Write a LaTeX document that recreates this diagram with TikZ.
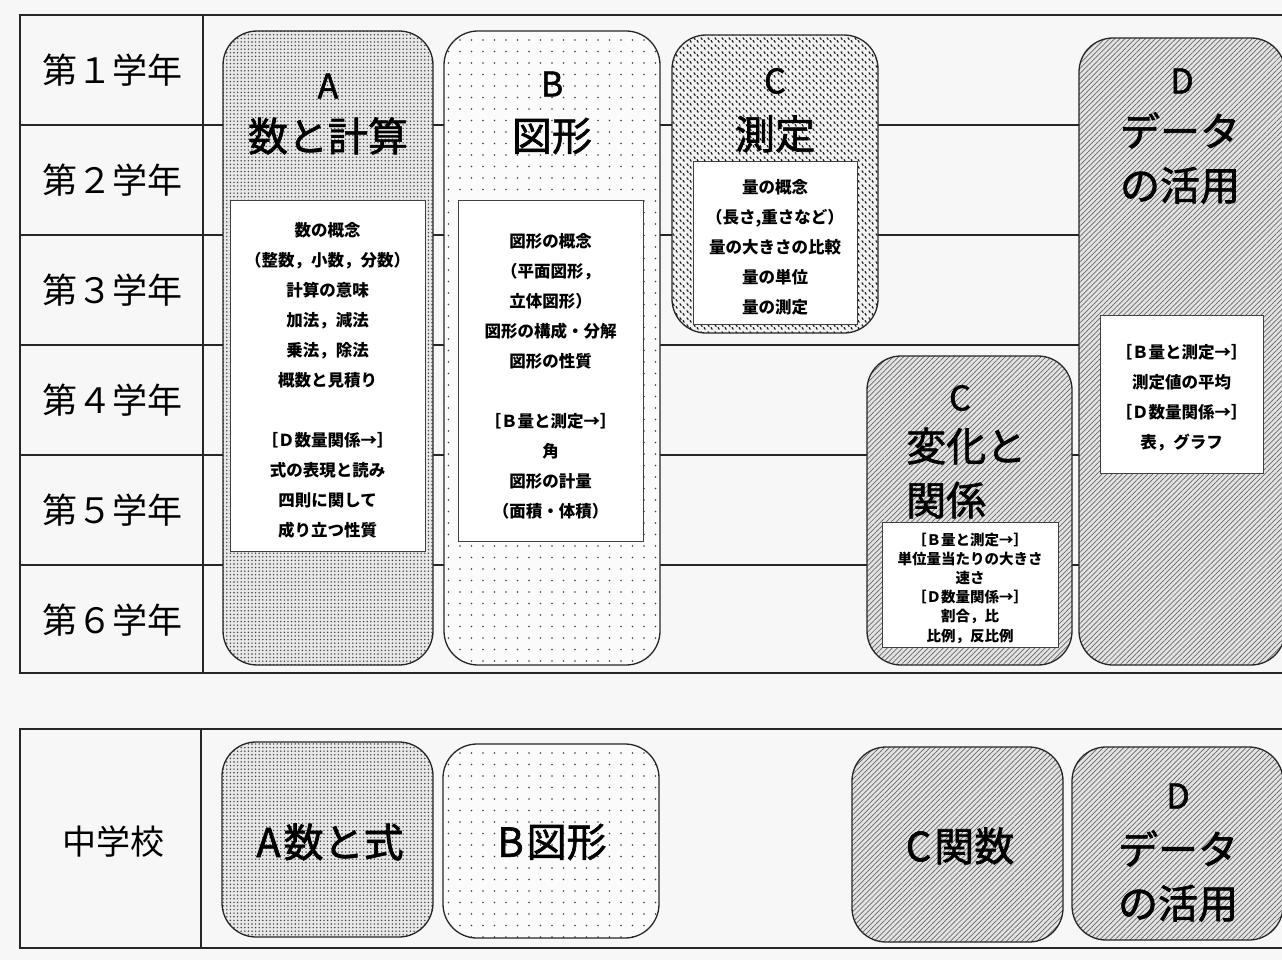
\documentclass[tikz,border=0pt]{standalone}
\usepackage{fontspec}
\newfontfamily\jp{Noto Sans CJK JP}
\newfontfamily\jpm[FakeBold=1.5]{Noto Sans CJK JP}
\usetikzlibrary{patterns,patterns.meta}
\pgfdeclarepatternformonly{cdash}{\pgfpointorigin}{\pgfqpoint{7pt}{7pt}}{\pgfqpoint{7pt}{7pt}}{%
  \pgfsetlinewidth{1.3pt}%
  \pgfsetroundcap
  \pgfpathmoveto{\pgfqpoint{1.2pt}{6pt}}\pgfpathlineto{\pgfqpoint{2.4pt}{4pt}}%
  \pgfpathmoveto{\pgfqpoint{4.7pt}{2.8pt}}\pgfpathlineto{\pgfqpoint{5.9pt}{0.8pt}}%
  \pgfusepath{stroke}}
\begin{document}
\begin{tikzpicture}[x=1pt,y=-1pt,
  grid/.style={line width=1.6pt,draw=black!85},
  box/.style={draw=black!85,line width=1.3pt,rounded corners=34pt,inner sep=0pt},
  pA/.style={box,preaction={fill=gray!18},pattern={Dots[distance=3.6pt,radius=0.8pt]},pattern color=black!75},
  pB/.style={box,preaction={fill=gray!3},pattern={Dots[distance=11.5pt,radius=0.9pt]},pattern color=black!75},
  pC/.style={box,preaction={fill=gray!10},pattern=cdash,pattern color=black!90},
  pD/.style={box,preaction={fill=gray!22},pattern={Lines[angle=45,distance=3.6pt,line width=0.7pt]},pattern color=black!60},
  inner/.style={draw=black!75,line width=0.9pt,fill=white,inner sep=0pt},
  title/.style={font=\jpm\fontsize{40}{54}\selectfont,inner sep=0pt},
  letter/.style={font=\jpm\fontsize{34}{40}\selectfont,inner sep=0pt},
  body/.style={font=\jp\bfseries\fontsize{16.5}{30}\selectfont,align=center,inner sep=0pt},
  small/.style={font=\jp\bfseries\fontsize{14.5}{19.2}\selectfont,align=center,inner sep=0pt},
  label/.style={font=\jp\fontsize{35}{40}\selectfont,inner sep=0pt}]
\useasboundingbox (0,0) rectangle (1282,960);
\clip (0,0) rectangle (1282,960);
\fill[gray!6] (0,0) rectangle (1282,960);
% top table
\draw[grid] (1295,15) -- (20,15) -- (20,673) -- (1295,673);
\draw[grid] (203,15) -- (203,673);
\foreach \y in {125,235,345,455,565} \draw[grid] (20,\y) -- (1295,\y);
\node[label] (g1) at (112,70) {第１学年};
\node[label] (g2) at (112,180) {第２学年};
\node[label] (g3) at (112,290) {第３学年};
\node[label] (g4) at (112,400) {第４学年};
\node[label] (g5) at (112,510) {第５学年};
\node[label] (g6) at (112,620) {第６学年};
% A
\node[pA,minimum width=210pt,minimum height=634pt] (A) at (328,348) {};
\node[letter] (At) at (328,86) {A};
\node[title] (An) at (328,136) {数と計算};
\node[inner,minimum width=195pt,minimum height=351pt] (Ai) at (327.5,375.5) {};
\node[body] (Ab) at (327.5,380) {数の概念\\（整数，小数，分数）\\計算の意味\\加法，減法\\乗法，除法\\概数と見積り\\[30pt]［Ｄ数量関係→］\\式の表現と読み\\四則に関して\\成り立つ性質};
% B
\node[pB,minimum width=216pt,minimum height=634pt] (B) at (552,348) {};
\node[letter] (Bt) at (552,84) {B};
\node[title] (Bn) at (552,136) {図形};
\node[inner,minimum width=185pt,minimum height=341pt] (Bi) at (550.5,370.5) {};
\node[body] (Bb) at (550.5,376) {図形の概念\\（平面図形，\\立体図形）\\図形の構成・分解\\図形の性質\\[30pt]［Ｂ量と測定→］\\角\\図形の計量\\（面積・体積）};
% C measurement
\node[pC,minimum width=206pt,minimum height=298pt] (C) at (775,184) {};
\node[letter] (Ct) at (775,81) {C};
\node[title] (Cn) at (775,134) {測定};
\node[inner,minimum width=164pt,minimum height=163pt] (Ci) at (775,242.5) {};
\node[body] (Cb) at (775,247) {量の概念\\（長さ,重さなど）\\量の大きさの比較\\量の単位\\量の測定};
% C change
\node[pD,minimum width=205pt,minimum height=309pt] (K) at (969.5,510.5) {};
\node[letter] (Kt) at (960,398) {C};
\node[title,align=left,anchor=west] (Kn) at (906,473) {変化と\\関係};
\node[inner,minimum width=176pt,minimum height=125pt] (Ki) at (970,584.5) {};
\node[small] (Kb) at (970,588) {［Ｂ量と測定→］\\単位量当たりの大きさ\\速さ\\［Ｄ数量関係→］\\割合，比\\比例，反比例};
% D
\node[pD,minimum width=206pt,minimum height=627pt] (D) at (1182,351.5) {};
\node[letter] (Dt) at (1182,81) {D};
\node[title,align=center] (Dn) at (1180,158) {データ\\の活用};
\node[inner,minimum width=163pt,minimum height=158pt] (Di) at (1181.5,394) {};
\node[body] (Db) at (1181.5,398) {［Ｂ量と測定→］\\測定値の平均\\［Ｄ数量関係→］\\表，グラフ};
% bottom table
\draw[grid] (1295,729) -- (20,729) -- (20,948) -- (1295,948);
\draw[grid] (201,729) -- (201,948);
\node[label,font=\jp\fontsize{34}{38}\selectfont] (jh) at (113,842) {中学校};
\node[pA,minimum width=211pt,minimum height=195pt] (A2) at (327.5,839.5) {};
\node[title] (A2n) at (330,842) {A\hspace{3pt}数と式};
\node[pB,minimum width=216pt,minimum height=194pt] (B2) at (551,841) {};
\node[title] (B2n) at (552,842) {B\hspace{3pt}図形};
\node[pD,minimum width=211pt,minimum height=195pt] (C2) at (957.5,844.5) {};
\node[title] (C2n) at (960,846) {C\hspace{3pt}関数};
\node[pD,minimum width=211pt,minimum height=193pt] (D2) at (1177.5,843.5) {};
\node[letter] (D2t) at (1178,796) {D};
\node[title,align=center] (D2n) at (1178,876) {データ\\の活用};
\end{tikzpicture}
\end{document}
